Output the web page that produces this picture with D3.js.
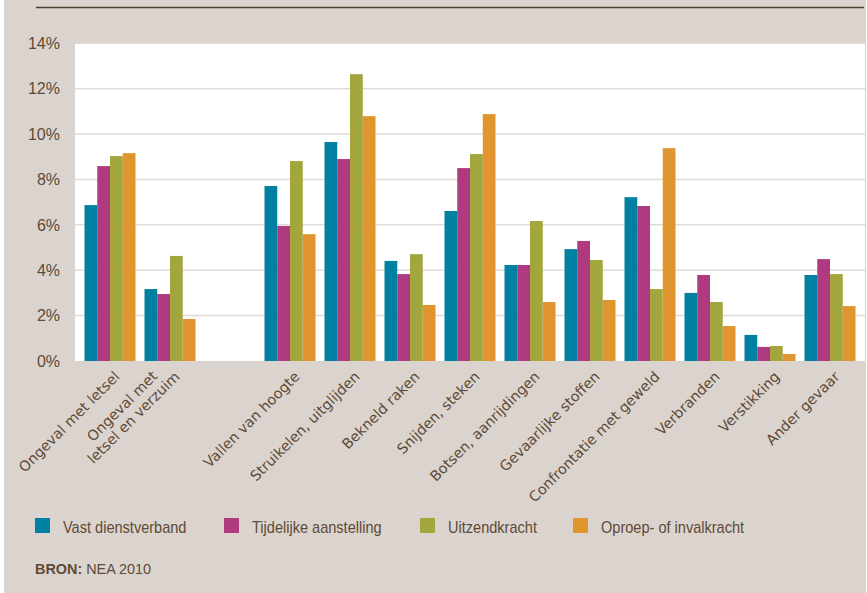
<!DOCTYPE html>
<html>
<head>
<meta charset="utf-8">
<script src="https://cdn.jsdelivr.net/npm/d3@7"></script>
<style>
html,body{margin:0;padding:0;background:#ffffff;}
svg{display:block;}
</style>
</head>
<body>
<svg id="chart" width="867" height="593"></svg>
<script>
// ---- data ----
const categories = ["Ongeval met letsel", "Ongeval met\nletsel en verzuim", "", "Vallen van hoogte",
  "Struikelen, uitglijden", "Bekneld raken", "Snijden, steken", "Botsen, aanrijdingen",
  "Gevaarlijke stoffen", "Confrontatie met geweld", "Verbranden", "Verstikking", "Ander gevaar"];
const seriesNames = ["Vast dienstverband", "Tijdelijke aanstelling", "Uitzendkracht", "Oproep- of invalkracht"];
const vast      = [6.87, 3.17, null, 7.71, 9.65, 4.41, 6.61, 4.23, 4.93, 7.22, 3.00, 1.15, 3.79];
const tijdelijk = [8.59, 2.95, null, 5.95, 8.90, 3.83, 8.50, 4.23, 5.29, 6.83, 3.79, 0.62, 4.49];
const uitzend   = [9.03, 4.63, null, 8.81, 12.64, 4.71, 9.12, 6.17, 4.45, 3.17, 2.60, 0.66, 3.83];
const oproep    = [9.16, 1.85, null, 5.59, 10.79, 2.47, 10.88, 2.60, 2.69, 9.38, 1.54, 0.31, 2.42];
const yTicks = [0, 2, 4, 6, 8, 10, 12, 14];
const sourceLabel = "BRON:";
const sourceText = " NEA 2010";

const seriesValues = [vast, tijdelijk, uitzend, oproep];
const colors = ["#0081a1", "#b03a7f", "#a3a63d", "#e0952f"];
const textColor = "#5e4a36";

const svg = d3.select("#chart");
const W = 867, H = 593;

// background
svg.append("rect").attr("x", 4).attr("y", 0).attr("width", 862).attr("height", H).attr("fill", "#dbd4ce");
// top rule
svg.append("line").attr("x1", 36).attr("x2", 864).attr("y1", 7.5).attr("y2", 7.5)
  .attr("stroke", "#4e3f2f").attr("stroke-width", 1.5);

const plot = {left: 75, right: 865, top: 43.3, bottom: 361};
svg.append("rect").attr("x", plot.left).attr("y", plot.top)
  .attr("width", plot.right - plot.left).attr("height", plot.bottom - plot.top).attr("fill", "#ffffff");

const y = d3.scaleLinear().domain([0, 14]).range([plot.bottom, plot.top]);
const x = d3.scaleBand().domain(categories).range([80, 860]).paddingInner(0.15).paddingOuter(0.075);
const xs = d3.scaleBand().domain(d3.range(seriesNames.length)).range([0, x.bandwidth()]);

// gridlines
svg.append("g").selectAll("line").data(yTicks.filter(t => t > 0)).join("line")
  .attr("x1", plot.left).attr("x2", plot.right)
  .attr("y1", d => y(d)).attr("y2", d => y(d))
  .attr("stroke", "#e2dbd5").attr("stroke-width", 1.5);

// y axis labels
svg.append("g").selectAll("text").data(yTicks).join("text")
  .attr("x", 60).attr("y", d => y(d)).attr("dy", "0.36em")
  .attr("text-anchor", "end")
  .attr("font-family", "'Liberation Sans', Arial, sans-serif")
  .attr("font-size", 16).attr("fill", textColor)
  .text(d => d + "%");

// bars
const barData = [];
categories.forEach((c, ci) => {
  seriesValues.forEach((arr, si) => {
    if (arr[ci] != null) barData.push({c, si, v: arr[ci]});
  });
});
svg.append("g").selectAll("rect").data(barData).join("rect")
  .attr("x", d => x(d.c) + xs(d.si))
  .attr("width", xs.bandwidth())
  .attr("y", d => y(d.v))
  .attr("height", d => y(0) - y(d.v))
  .attr("fill", d => colors[d.si]);

// x labels
const lineH = 16;
categories.forEach(c => {
  if (!c) return;
  const cx = x(c) + x.bandwidth() / 2;
  const g = svg.append("g").attr("transform", `translate(${cx + 7},374) rotate(-45)`);
  const lines = c.split("\n");
  const t = g.append("text").attr("text-anchor", "middle")
    .attr("font-family", "'DejaVu Sans', Verdana, sans-serif")
    .attr("font-size", 14.3).attr("fill", textColor);
  lines.forEach((ln, i) => {
    t.append("tspan").attr("x", 0).attr("y", (i - (lines.length - 1)) * lineH)
      .attr("dy", "0.35em").text(ln);
  });
  const w = d3.max(t.selectAll("tspan").nodes(), n => n.getComputedTextLength());
  t.selectAll("tspan").attr("x", -w / 2);
});

// legend
const legendX = [35, 224, 420, 573];
const lg = svg.append("g").selectAll("g").data(seriesNames).join("g")
  .attr("transform", (d, i) => `translate(${legendX[i]},518)`);
lg.append("rect").attr("width", 15).attr("height", 15).attr("fill", (d, i) => colors[i]);
lg.append("g").attr("transform", "translate(28,14.5) scale(0.91,1)")
  .append("text")
  .attr("font-family", "'Liberation Sans', Arial, sans-serif")
  .attr("font-size", 16).attr("fill", textColor)
  .text(d => d);

// source
const src = svg.append("g").attr("transform", "translate(35,573.5) scale(0.93,1)")
  .append("text")
  .attr("font-family", "'Liberation Sans', Arial, sans-serif")
  .attr("font-size", 15.5).attr("fill", textColor);
src.append("tspan").attr("font-weight", "bold").text(sourceLabel);
src.append("tspan").text(sourceText);
</script>
</body>
</html>
